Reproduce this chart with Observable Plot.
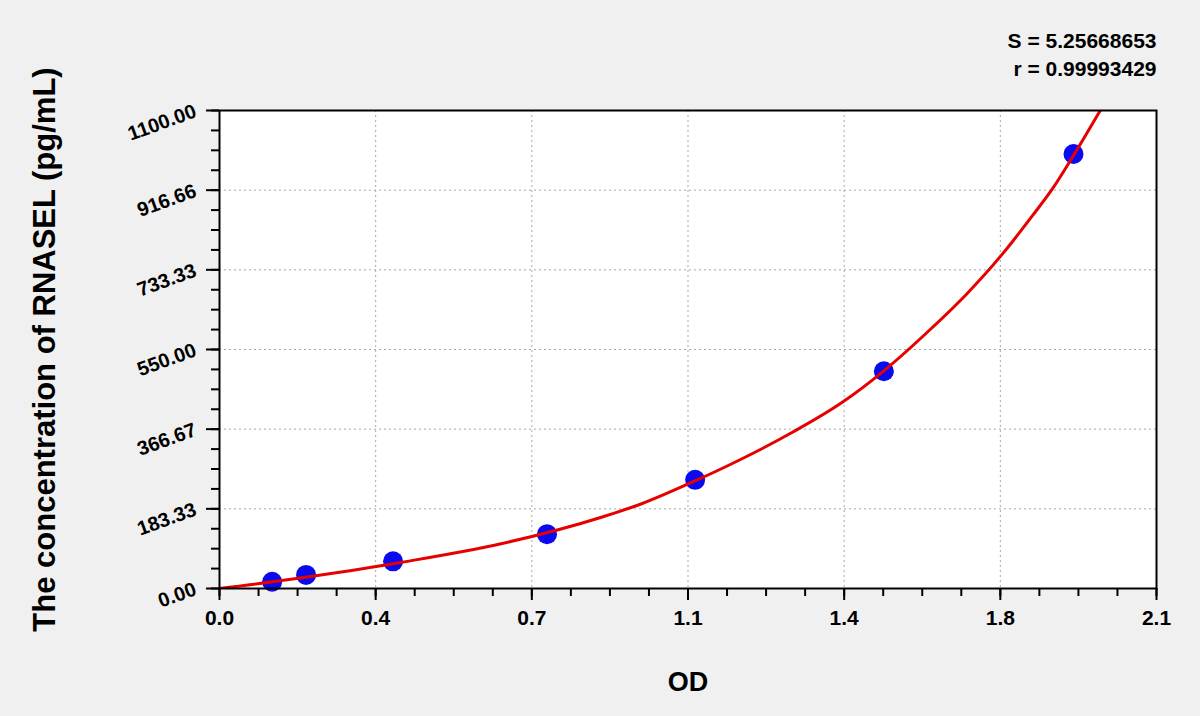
<!DOCTYPE html>
<html>
<head>
<meta charset="utf-8">
<script src="https://cdn.jsdelivr.net/npm/d3@7"></script>
<script src="https://cdn.jsdelivr.net/npm/@observablehq/plot@0.6"></script>
<style>
  html, body { margin: 0; padding: 0; background: #f0f0f0; }
  #chart svg { display: block; }
</style>
</head>
<body>
<div id="chart"></div>
<script>
// Standard points (OD, concentration pg/mL)
const pointOD = [0.118, 0.194, 0.389, 0.734, 1.066, 1.489, 1.914];
const pointConc = [15.6, 31.25, 62.5, 125, 250, 500, 1000];

// Fitted curve
const curveOD = [0, 0.181, 0.406, 0.631, 0.856, 0.946, 1.058, 1.170, 1.283, 1.395, 1.489, 1.597, 1.672, 1.755, 1.822, 1.867, 1.916, 1.979];
const curveConc = [0, 24, 60, 103, 164, 195, 244, 298, 359, 428, 501, 600, 675, 770, 858, 920, 1000, 1109];

// Axis ticks and labels
const xTickValues = [0, 0.35, 0.7, 1.05, 1.4, 1.75, 2.1];
const xTickLabels = ["0.0", "0.4", "0.7", "1.1", "1.4", "1.8", "2.1"];
const yTickValues = [0, 183.33, 366.67, 550, 733.33, 916.66, 1100];
const yTickLabels = ["0.00", "183.33", "366.67", "550.00", "733.33", "916.66", "1100.00"];
const xMinorStep = 0.0875;
const yMinorStep = 1100 / 24;

const statsLines = ["S = 5.25668653", "r = 0.99993429"];
const xTitle = "OD";
const yTitle = "The concentration of RNASEL (pg/mL)";

const points = pointOD.map((od, i) => ({od, conc: pointConc[i]}));
const curve = curveOD.map((od, i) => ({od, conc: curveConc[i]}));
const xMinor = d3.range(0, 2.1 + 1e-9, xMinorStep);
const yMinor = d3.range(0, 1100 + 1e-6, yMinorStep);

const font = "Liberation Sans, Arial, Helvetica, sans-serif";

const chart = Plot.plot({
  width: 1200,
  height: 716,
  marginLeft: 219,
  marginRight: 44,
  marginTop: 110,
  marginBottom: 128,
  style: {background: "#f0f0f0", fontFamily: font, fontWeight: "bold", color: "black"},
  x: {domain: [0, 2.1], axis: null},
  y: {domain: [0, 1100], axis: null},
  marks: [
    Plot.frame({fill: "white"}),
    Plot.gridX(xTickValues, {stroke: "#a8a8a8", strokeOpacity: 1, strokeDasharray: "2,3", strokeWidth: 1}),
    Plot.gridY(yTickValues, {stroke: "#a8a8a8", strokeOpacity: 1, strokeDasharray: "2,3", strokeWidth: 1}),
    Plot.axisX(xMinor, {tickSize: 8, strokeWidth: 2, tickFormat: () => "", label: null}),
    Plot.axisX(xTickValues, {tickSize: 12, strokeWidth: 2, tickFormat: () => "", label: null}),
    Plot.text(xTickValues, {
      x: d => d, text: (d, i) => xTickLabels[i], frameAnchor: "bottom", lineAnchor: "middle", dy: 30,
      textAnchor: "middle", fontSize: 21, fontWeight: "bold", fill: "black"
    }),
    Plot.axisY(yMinor, {tickSize: 8, strokeWidth: 2, tickFormat: () => "", label: null}),
    Plot.axisY(yTickValues, {tickSize: 13, strokeWidth: 2, tickFormat: () => "", label: null}),
    Plot.text(yTickValues, {
      y: d => d, text: (d, i) => yTickLabels[i], frameAnchor: "left", dx: -24,
      textAnchor: "end", rotate: -20, fontSize: 20, fontWeight: "bold", fill: "black"
    }),
    Plot.dot(points, {x: "od", y: "conc", r: 10, fill: "#0a0af0", stroke: null}),
    Plot.line(curve, {x: "od", y: "conc", stroke: "#e60000", strokeWidth: 3, curve: "monotone-x", clip: true}),
    Plot.frame({stroke: "black", strokeWidth: 2}),
    Plot.text([xTitle], {frameAnchor: "bottom", lineAnchor: "middle", textAnchor: "middle", dy: 94, fontSize: 27, fontWeight: "bold", fill: "black"}),
    Plot.text([yTitle], {frameAnchor: "left", lineAnchor: "middle", textAnchor: "middle", dx: -174, rotate: -90, fontSize: 31, fontWeight: "bold", fill: "black"}),
    Plot.text([statsLines[0]], {frameAnchor: "top-right", textAnchor: "end", lineAnchor: "middle", dy: -69, fontSize: 21, fontWeight: "bold", fill: "black"}),
    Plot.text([statsLines[1]], {frameAnchor: "top-right", textAnchor: "end", lineAnchor: "middle", dy: -41, fontSize: 21, fontWeight: "bold", fill: "black"})
  ]
});
document.getElementById("chart").appendChild(chart);
</script>
</body>
</html>
